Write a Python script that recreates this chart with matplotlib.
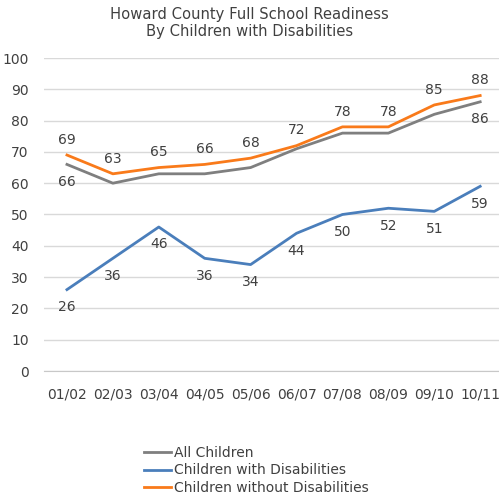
import matplotlib
matplotlib.use("Agg")
import matplotlib.pyplot as plt

years = ["01/02", "02/03", "03/04", "04/05", "05/06", "06/07", "07/08", "08/09", "09/10", "10/11"]
all_children = [66, 60, 63, 63, 65, 71, 76, 76, 82, 86]
with_disab = [26, 36, 46, 36, 34, 44, 50, 52, 51, 59]
without_disab = [69, 63, 65, 66, 68, 72, 78, 78, 85, 88]

c_gray = "#7f7f7f"
c_blue = "#4a7ebb"
c_orange = "#f97a1a"
txt = "#404040"

plt.rcParams["font.family"] = ["DejaVu Sans"]
fig = plt.figure(figsize=(4.99, 4.94), dpi=100)
ax = fig.add_axes([44 / 499, 123 / 494, 455 / 499, 313 / 494])

x = list(range(len(years)))
ax.plot(x, all_children, color=c_gray, lw=2.0, label="All Children", zorder=3)
ax.plot(x, with_disab, color=c_blue, lw=2.0, label="Children with Disabilities", zorder=3)
ax.plot(x, without_disab, color=c_orange, lw=2.0, label="Children without Disabilities", zorder=4)

# value labels
for i, v in enumerate(without_disab):
    ax.annotate(str(v), (i, v), xytext=(0, 11), textcoords="offset points",
                ha="center", va="center", fontsize=10, color=txt)
for i, v in enumerate(with_disab):
    ax.annotate(str(v), (i, v), xytext=(0, -12.5), textcoords="offset points",
                ha="center", va="center", fontsize=10, color=txt)
for i in (0, len(all_children) - 1):
    v = all_children[i]
    ax.annotate(str(v), (i, v), xytext=(0, -12.5), textcoords="offset points",
                ha="center", va="center", fontsize=10, color=txt)

ax.set_xlim(-0.5, 9.41)
ax.set_ylim(0, 100)
ax.set_yticks(range(0, 101, 10))
ax.set_xticks(x)
ax.set_xticklabels(years)
ax.grid(axis="y", color="#d9d9d9", lw=1)
ax.set_axisbelow(True)
for s in ("top", "right", "left"):
    ax.spines[s].set_visible(False)
ax.spines["bottom"].set_color("#c8c8c8")
ax.tick_params(axis="both", length=0, labelsize=10, colors=txt)
ax.tick_params(axis="y", pad=11)
ax.tick_params(axis="x", pad=12)

fig.text(0.5, 0.986, "Howard County Full School Readiness\nBy Children with Disabilities",
         ha="center", va="top", fontsize=10.6, color=txt, linespacing=1.2)

handles, labels = ax.get_legend_handles_labels()
fig.legend(handles, labels, loc="upper left", bbox_to_anchor=(138 / 499, 1 - 440 / 494),
           frameon=False, fontsize=10, handlelength=2.0, handletextpad=0.2,
           labelspacing=0.28, borderaxespad=0, labelcolor=txt)

fig.savefig("out.png", dpi=100)
